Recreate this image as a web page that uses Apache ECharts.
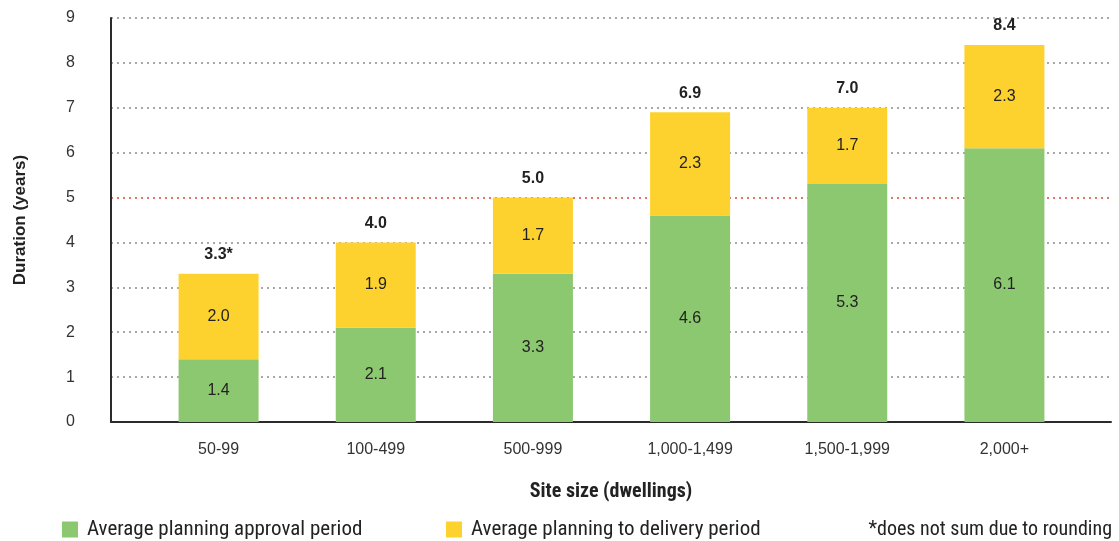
<!DOCTYPE html>
<html>
<head>
<meta charset="utf-8">
<script src="https://cdn.jsdelivr.net/npm/echarts@6/dist/echarts.min.js"></script>
<style>
  html, body { margin: 0; padding: 0; background: #fff; }
  #chart { width: 1119px; height: 541px; }
</style>
</head>
<body>
<div id="chart"></div>
<script>
const categories = ['50-99', '100-499', '500-999', '1,000-1,499', '1,500-1,999', '2,000+']
const approval = [1.4, 2.1, 3.3, 4.6, 5.3, 6.1]
const delivery = [2.0, 1.9, 1.7, 2.3, 1.7, 2.3]
const totals = [3.3, 4.0, 5.0, 6.9, 7.0, 8.4]
const totalLabels = ['3.3*', '4.0', '5.0', '6.9', '7.0', '8.4']
const yTicks = [0, 1, 2, 3, 4, 5, 6, 7, 8, 9]

const narrow = '"Liberation Sans Narrow", "Roboto Condensed", "DejaVu Sans Condensed", sans-serif'
const sans = '"Liberation Sans", Arial, sans-serif'

const chart = echarts.init(document.getElementById('chart'))

// the yellow part is drawn up to the published total, label shows the rounded figure
const deliveryDrawn = totals.map((t, i) => +(t - approval[i]).toFixed(1))

// gridline colours, the 5-year line is red
const splitColors = yTicks.map(v => (v === 5 ? '#e0443a' : '#8a8a8a'))

const option = {
  animation: false,
  textStyle: { fontFamily: sans },
  grid: [
    { left: 111, right: 8, top: 18, bottom: 119 },
    { left: 140, right: 36, top: 18, bottom: 119 }
  ],
  xAxis: [
    {
      gridIndex: 0,
      type: 'value',
      min: 0,
      max: 1,
      name: 'Site size (dwellings)',
      nameLocation: 'middle',
      nameGap: 60,
      nameTextStyle: { fontFamily: narrow, fontSize: 20, fontWeight: 'bold', color: '#222' },
      axisLine: { show: true, lineStyle: { color: '#2b2b2b', width: 2 } },
      axisTick: { show: false },
      axisLabel: { show: false },
      splitLine: { show: false }
    },
    {
      gridIndex: 1,
      type: 'category',
      data: categories,
      axisLine: { show: false },
      axisTick: { show: false },
      axisLabel: { margin: 20, fontSize: 16, color: '#333' }
    }
  ],
  yAxis: [
    {
      gridIndex: 0,
      type: 'value',
      min: 0,
      max: 9,
      interval: 1,
      name: 'Duration (years)',
      nameLocation: 'middle',
      nameGap: 82,
      nameTextStyle: { fontSize: 17, fontWeight: 'bold', color: '#222' },
      axisLine: { show: true, lineStyle: { color: '#2b2b2b', width: 2 } },
      axisTick: { show: false },
      axisLabel: { margin: 36, fontSize: 16, color: '#333' },
      splitLine: {
        show: true,
        lineStyle: { color: splitColors, type: [2, 4], width: 1.5 }
      }
    },
    {
      gridIndex: 1,
      type: 'value',
      min: 0,
      max: 9,
      interval: 1,
      show: false,
      splitLine: { show: false }
    }
  ],
  legend: [
    {
      left: 57,
      top: 514,
      icon: 'rect',
      itemWidth: 16,
      itemHeight: 16,
      textStyle: { fontFamily: narrow, fontSize: 21, color: '#222', padding: [0, 0, 0, 4] },
      data: ['Average planning approval period']
    },
    {
      left: 441,
      top: 514,
      icon: 'rect',
      itemWidth: 16,
      itemHeight: 16,
      textStyle: { fontFamily: narrow, fontSize: 21, color: '#222', padding: [0, 0, 0, 4] },
      data: ['Average planning to delivery period']
    }
  ],
  title: {
    text: '*does not sum due to rounding',
    right: 2,
    top: 515,
    textStyle: { fontFamily: narrow, fontSize: 20, fontWeight: 'normal', color: '#222' }
  },
  series: [
    {
      name: 'Average planning approval period',
      type: 'bar',
      xAxisIndex: 1,
      yAxisIndex: 1,
      stack: 'total',
      barWidth: 80,
      data: approval,
      itemStyle: { color: '#8cc870' },
      label: {
        show: true,
        position: 'inside',
        fontSize: 16,
        color: '#222'
      }
    },
    {
      name: 'Average planning to delivery period',
      type: 'bar',
      xAxisIndex: 1,
      yAxisIndex: 1,
      stack: 'total',
      barWidth: 80,
      data: deliveryDrawn,
      itemStyle: { color: '#fdd22e' },
      label: {
        show: true,
        position: 'inside',
        fontSize: 16,
        color: '#222',
        formatter: (p) => delivery[p.dataIndex].toFixed(1)
      }
    },
    {
      name: 'total',
      type: 'bar',
      xAxisIndex: 1,
      yAxisIndex: 1,
      stack: 'total',
      barWidth: 80,
      data: categories.map(() => 0),
      itemStyle: { color: 'transparent' },
      label: {
        show: true,
        position: 'top',
        distance: 11,
        fontSize: 16,
        fontWeight: 'bold',
        color: '#222',
        formatter: (p) => totalLabels[p.dataIndex]
      }
    }
  ]
}

chart.setOption(option)

window.addEventListener('resize', () => {
  chart.resize()
})
</script>
</body>
</html>
